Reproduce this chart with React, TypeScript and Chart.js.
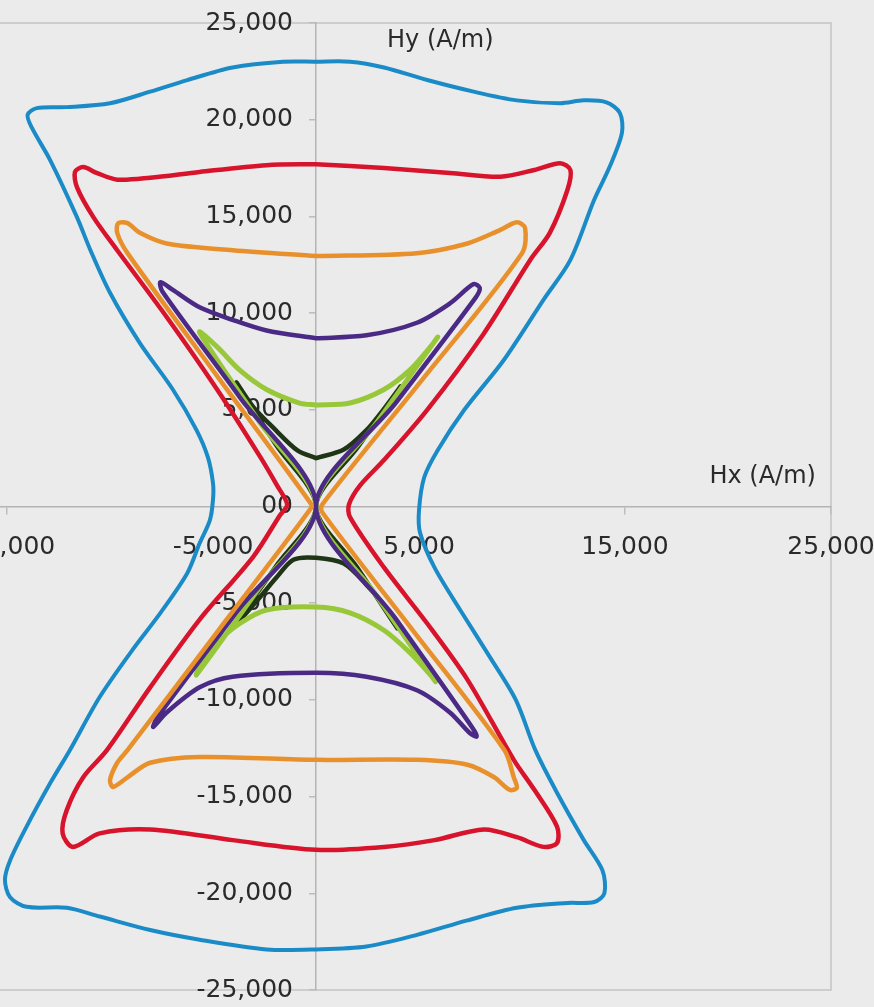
import React, { useEffect, useRef } from "react";
import { Chart, registerables } from "chart.js";

Chart.register(...registerables);

// Hx (A/m), Hy (A/m) loci
const blueLoop: [number, number][] = [
  [0, 23000], [1650, 23000], [3300, 22700], [5400, 22050], [7650, 21450], [9750, 21000],
  [11850, 20850], [13000, 21000], [14100, 20900], [14750, 20350], [14850, 19300],
  [14250, 17550], [13500, 15850], [12350, 12750], [11050, 10700], [9100, 7550],
  [7200, 5000], [5900, 2900], [5250, 1500], [5000, -200], [5050, -1350], [5750, -3150],
  [7000, -5350], [8450, -7800], [9700, -10000], [10650, -12600], [11700, -14800],
  [13000, -17250], [13900, -18800], [14000, -20000], [13500, -20450], [12200, -20500],
  [9750, -20750], [7350, -21400], [4900, -22150], [2450, -22750], [0, -22900],
  [-2400, -22900], [-5650, -22400], [-8050, -21900], [-10500, -21200], [-12100, -20750],
  [-14050, -20700], [-14850, -20200], [-15100, -19300], [-14850, -18300], [-14050, -16550],
  [-12900, -14300], [-11950, -12600], [-10500, -9850], [-8900, -7400], [-7550, -5500],
  [-6250, -3450], [-5650, -1900], [-5150, -700], [-5000, 350], [-5000, 1200], [-5250, 2550],
  [-5800, 3950], [-6950, 6050], [-8550, 8450], [-10000, 11050], [-10950, 13250],
  [-11600, 14950], [-12900, 17900], [-13800, 19600], [-14000, 20250], [-13550, 20600],
  [-12100, 20650], [-10000, 20850], [-8050, 21450], [-6250, 22050], [-4050, 22700],
  [-1600, 23000], [0, 23000],
];

const redLoop: [number, number][] = [
  [0, 17700], [3300, 17500], [6500, 17250], [8950, 17050], [10600, 17400], [11850, 17750],
  [12350, 17400], [12200, 16350], [11350, 14150], [10400, 12750], [8150, 8950], [5400, 5000],
  [3300, 2400], [2150, 1100], [1600, 100], [1650, -550], [3300, -3150], [5400, -6050],
  [7350, -8950], [9600, -13100], [10600, -14650], [11700, -16550], [11700, -17400],
  [11050, -17600], [9750, -17100], [8150, -16700], [5750, -17250], [3300, -17600],
  [0, -17750], [-4050, -17250], [-8050, -16700], [-10500, -16900], [-11800, -17600],
  [-12300, -16900], [-12100, -15700], [-11300, -14000], [-10150, -12600], [-8050, -9350],
  [-5650, -5850], [-3050, -2600], [-1750, -450], [-1400, 100], [-1900, 1100], [-2700, 2550],
  [-4800, 6050], [-7250, 9800], [-9650, 13250], [-10800, 14950], [-11600, 16500],
  [-11700, 17300], [-11300, 17550], [-10650, 17250], [-9650, 16900], [-8050, 17000],
  [-5650, 17300], [-2400, 17650], [0, 17700],
];

const orangeLoop: [number, number][] = [
  [0, 12950], [4900, 13100], [7350, 13600], [8950, 14300], [9750, 14700], [10150, 14400],
  [10000, 13100], [5150, 6550], [300, 100], [300, -300], [4700, -6400], [9150, -12600],
  [9600, -14000], [9750, -14550], [9400, -14650], [8650, -14000], [7350, -13350],
  [4900, -13100], [0, -13100], [-5650, -12950], [-8050, -13250], [-9150, -14000],
  [-9850, -14500], [-10000, -14150], [-9650, -13250], [-9150, -12600], [-4700, -6350],
  [-250, -100], [-250, 150], [-4700, 6600], [-9150, 13100], [-9650, 14150], [-9600, 14650],
  [-9150, 14650], [-8550, 14150], [-7250, 13600], [-4050, 13250], [0, 12950],
];

const purpleLoop: [number, number][] = [
  [0, 8700], [2450, 8850], [4900, 9500], [6500, 10500], [7650, 11500], [7950, 11300],
  [7750, 10800], [3900, 5400], [0, 0], [3900, -5850], [7600, -11450], [7800, -11900],
  [7450, -11700], [6500, -10650], [4900, -9500], [2450, -8800], [0, -8600], [-4050, -8800],
  [-5650, -9350], [-7250, -10650], [-7900, -11400], [-7700, -10900], [-3850, -5450],
  [0, 0], [-3700, 5650], [-7450, 11100], [-7550, 11600], [-6950, 11200], [-5650, 10300],
  [-4050, 9650], [-2400, 9100], [0, 8700],
];

const lightGreenLoop: [number, number][] = [
  [0, 5250], [1650, 5350], [3300, 6050], [4550, 7050], [5550, 8250], [5900, 8750],
  [2950, 4350], [0, 0], [2900, -4550], [5800, -9050], [5550, -8700], [4550, -7550],
  [3300, -6400], [1650, -5500], [0, -5200], [-2400, -5350], [-3700, -6050], [-4800, -7050],
  [-5650, -8300], [-5800, -8700], [-2850, -4350], [0, 0], [-2800, 4450], [-5650, 9000],
  [-4800, 8250], [-3700, 7050], [-2400, 6050], [-800, 5350], [0, 5250],
];

const darkGreenLoop: [number, number][] = [
  [0, 2500], [1350, 2950], [2450, 3950], [3300, 5050], [4100, 6200], [2050, 3100], [0, 0],
  [2000, -3150], [3950, -6300], [3300, -5100], [2450, -4050], [1350, -2950], [0, -2650],
  [-1100, -2750], [-1900, -3650], [-2850, -4850], [-3950, -6150], [-1950, -3100], [0, 0],
  [-1950, 3200], [-3850, 6400], [-3050, 5150], [-2100, 4100], [-900, 2900], [0, 2500],
];

const xTickValues = [-25000, -15000, -5000, 5000, 15000, 25000];
const xTickLabels = ["-25,000", "-15,000", "-5,000", "5,000", "15,000", "25,000"];
const yTickValues = [-25000, -20000, -15000, -10000, -5000, 0, 5000, 10000, 15000, 20000, 25000];
const yTickLabels = ["-25,000", "-20,000", "-15,000", "-10,000", "-5,000", "00", "5,000", "10,000", "15,000", "20,000", "25,000"];
const xTitle = "Hx (A/m)";
const yTitle = "Hy (A/m)";

const FONT = "DejaVu Sans";

export default function App() {
  const ref = useRef<HTMLCanvasElement>(null);

  useEffect(() => {
    const canvas = ref.current;
    if (!canvas) return;
    const pts = (a: [number, number][]) => a.map(([x, y]) => ({ x, y }));
    const ds = (label: string, data: [number, number][], color: string, w: number) => ({
      label,
      data: pts(data),
      borderColor: color,
      backgroundColor: color,
      borderWidth: w,
      showLine: true,
      fill: false,
      pointRadius: 0,
      pointHoverRadius: 0,
      tension: 0.3,
      borderCapStyle: "round",
      borderJoinStyle: "round",
    });

    const zeroFit = (s: any) => {
      if (!s.isHorizontal()) s.width = 0;
      s.paddingLeft = 0;
      s.paddingRight = 0;
      s.paddingTop = 0;
      s.paddingBottom = 0;
    };

    const framePlugin = {
      id: "frame",
      afterLayout(chart: any) {
        // place the vertical axis where Hx = 0
        const ys = chart.scales.y;
        const c = chart.scales.x.getPixelForValue(0);
        ys.left = c - 160;
        ys.right = c;
        ys.width = 160;
      },
      beforeDraw(chart: any) {
        const { ctx, chartArea: a } = chart;
        ctx.save();
        ctx.strokeStyle = "#c4c4c4";
        ctx.lineWidth = 1.5;
        ctx.strokeRect(a.left, a.top, a.right - a.left, a.bottom - a.top);
        ctx.restore();
      },
      afterDraw(chart: any) {
        const { ctx } = chart;
        const xs = chart.scales.x;
        const ys = chart.scales.y;
        ctx.save();
        ctx.fillStyle = "#2a2a2a";
        ctx.font = `24px "${FONT}"`;
        ctx.textAlign = "left";
        ctx.textBaseline = "middle";
        ctx.fillText(yTitle, xs.getPixelForValue(3450), ys.getPixelForValue(24100));
        ctx.fillText(xTitle, xs.getPixelForValue(19100), ys.getPixelForValue(1550));
        ctx.restore();
      },
    };

    const chart = new Chart(canvas, {
      type: "scatter",
      data: {
        datasets: [
          ds("Orange", orangeLoop, "#e8912c", 4.5),
          ds("Red", redLoop, "#d8132c", 4.5),
          ds("Purple", purpleLoop, "#4b2a85", 4.5),
          ds("Light green", lightGreenLoop, "#98c83a", 5),
          ds("Dark green", darkGreenLoop, "#1f3516", 4.5),
          ds("Blue", blueLoop, "#1b8bc8", 4),
        ] as any,
      },
      options: {
        animation: false,
        responsive: false,
        devicePixelRatio: 1,
        layout: { padding: { left: 0, right: 43, top: 23, bottom: 17 } },
        plugins: { legend: { display: false }, tooltip: { enabled: false } },
        scales: {
          x: {
            type: "linear",
            min: -25000,
            max: 25000,
            position: { y: 0 } as any,
            afterFit: zeroFit,
            afterBuildTicks: (s: any) => {
              s.ticks = xTickValues.map((v) => ({ value: v }));
            },
            grid: { drawOnChartArea: false, drawTicks: true, tickLength: 7, color: "#bdbdbd", lineWidth: 1.5 },
            border: { display: true, color: "#b4b4b4", width: 1.5 },
            ticks: {
              autoSkip: false,
              maxRotation: 0,
              minRotation: 0,
              padding: 19,
              color: "#2a2a2a",
              font: { size: 25, family: FONT },
              callback: (_v: any, i: number) => xTickLabels[i],
            },
          },
          y: {
            type: "linear",
            min: -25000,
            max: 25000,
            position: "left",
            afterFit: zeroFit,
            afterBuildTicks: (s: any) => {
              s.ticks = yTickValues.map((v) => ({ value: v }));
            },
            grid: { drawOnChartArea: false, drawTicks: true, tickLength: 7, color: "#bdbdbd", lineWidth: 1.5 },
            border: { display: true, color: "#b4b4b4", width: 1.5 },
            ticks: {
              autoSkip: false,
              padding: 16,
              color: "#2a2a2a",
              font: { size: 25, family: FONT },
              callback: (_v: any, i: number) => yTickLabels[i],
            },
          },
        },
      },
      plugins: [framePlugin],
    });
    return () => chart.destroy();
  }, []);

  return (
    <div
      style={{
        position: "fixed",
        left: 0,
        top: 0,
        width: 874,
        height: 1007,
        overflow: "hidden",
        background: "#ebebeb",
      }}
    >
      <canvas
        ref={ref}
        width={1073}
        height={1007}
        style={{ position: "absolute", left: -199, top: 0, width: 1073, height: 1007 }}
      />
    </div>
  );
}
